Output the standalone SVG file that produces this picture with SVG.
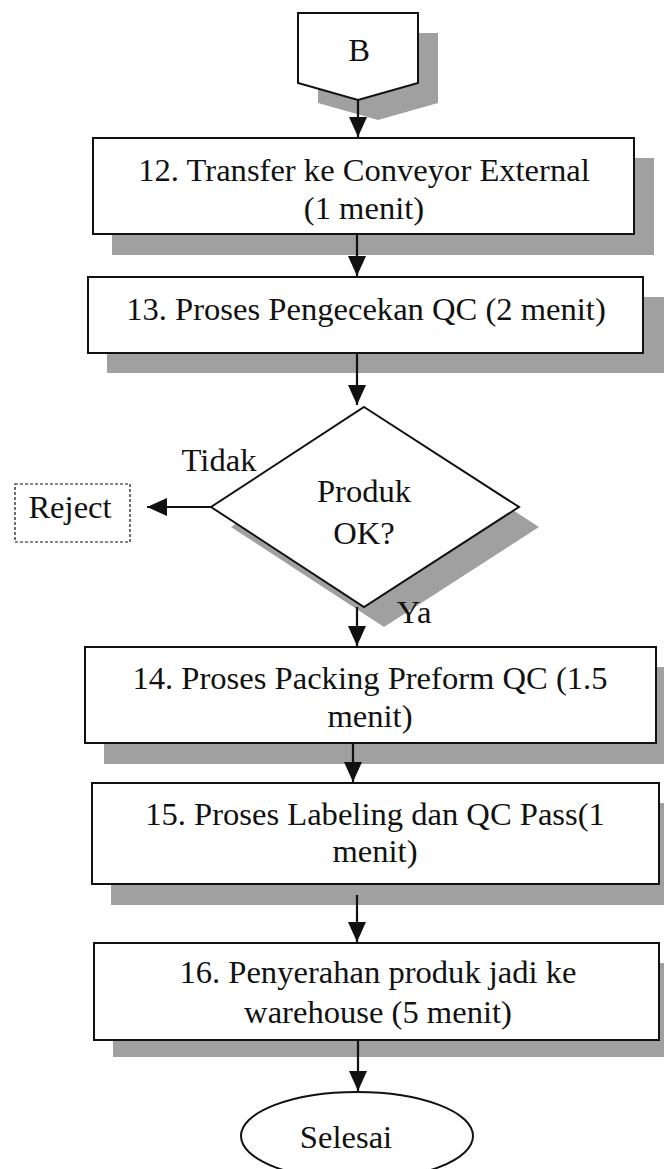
<svg xmlns="http://www.w3.org/2000/svg" width="664" height="1169" viewBox="0 0 664 1169">
<style>
text{font-family:"Liberation Serif","Times New Roman",serif;font-size:32.6px;fill:#111;text-anchor:middle}
.sh{fill:#a0a0a0;stroke:none}
.nd{fill:#fff;stroke:#111;stroke-width:2}
.cn{stroke:#111;stroke-width:2.2;fill:none;marker-end:url(#ah)}
</style>
<defs>
<marker id="ah" markerUnits="userSpaceOnUse" markerWidth="20" markerHeight="18" refX="20" refY="9" orient="auto">
<path d="M0,0 L20,9 L0,18 z" fill="#111"/>
</marker>
</defs>
<rect width="664" height="1169" fill="#fff"/>
<g id="node-B">
<polygon class="sh" points="318,33 438,33 438,103 378,120 318,103"/>
<polygon class="nd" points="298,13 418,13 418,83 358,100 298,83"/>
<text x="359" y="61">B</text>
</g>
<g id="node-12">
<rect class="sh" x="112" y="158" width="542" height="97"/>
<rect class="nd" x="93" y="138" width="541" height="96"/>
<text x="364" y="181">12. Transfer ke Conveyor External</text>
<text x="364" y="219">(1 menit)</text>
</g>
<g id="node-13">
<rect class="sh" x="107" y="297" width="557" height="76"/>
<rect class="nd" x="88" y="277" width="555" height="76"/>
<text x="366" y="320">13. Proses Pengecekan QC (2 menit)</text>
</g>
<g id="node-decision">
<polygon class="sh" points="384,427 539,527 384,627 231,527"/>
<polygon class="nd" points="364,407 519,507 364,607 211,507"/>
<text x="364" y="502">Produk</text>
<text x="364" y="544">OK?</text>
</g>
<g id="node-reject">
<rect x="15" y="484" width="115" height="58" fill="#fff" stroke="#111" stroke-width="1.2" stroke-dasharray="3,2"/>
<text x="70" y="518">Reject</text>
</g>
<g id="node-14">
<rect class="sh" x="104" y="667" width="560" height="97"/>
<rect class="nd" x="85" y="647" width="571" height="96"/>
<text x="370" y="689">14. Proses Packing Preform QC (1.5</text>
<text x="370" y="727">menit)</text>
</g>
<g id="node-15">
<rect class="sh" x="111" y="803" width="553" height="102"/>
<rect class="nd" x="92" y="783" width="567" height="101"/>
<text x="375" y="825">15. Proses Labeling dan QC Pass(1</text>
<text x="375" y="862">menit)</text>
</g>
<g id="node-16">
<rect class="sh" x="113" y="963" width="551" height="94"/>
<rect class="nd" x="94" y="943" width="565" height="97"/>
<text x="378" y="983">16. Penyerahan produk jadi ke</text>
<text x="378" y="1023">warehouse (5 menit)</text>
</g>
<g id="node-selesai">
<ellipse class="nd" cx="357" cy="1136" rx="116" ry="44"/>
<text x="346" y="1148">Selesai</text>
</g>
<g id="connectors">
<line class="cn" x1="358" y1="100" x2="358" y2="137"/>
<line class="cn" x1="357" y1="234" x2="357" y2="276"/>
<line class="cn" x1="357" y1="353" x2="357" y2="405"/>
<line class="cn" x1="211" y1="507" x2="147" y2="507"/>
<line class="cn" x1="357" y1="607" x2="357" y2="646"/>
<line class="cn" x1="353" y1="743" x2="353" y2="782"/>
<line class="cn" x1="357" y1="895" x2="357" y2="942"/>
<line class="cn" x1="358" y1="1040" x2="358" y2="1091"/>
<text x="219" y="471">Tidak</text>
<text x="414" y="623">Ya</text>
</g>
</svg>
